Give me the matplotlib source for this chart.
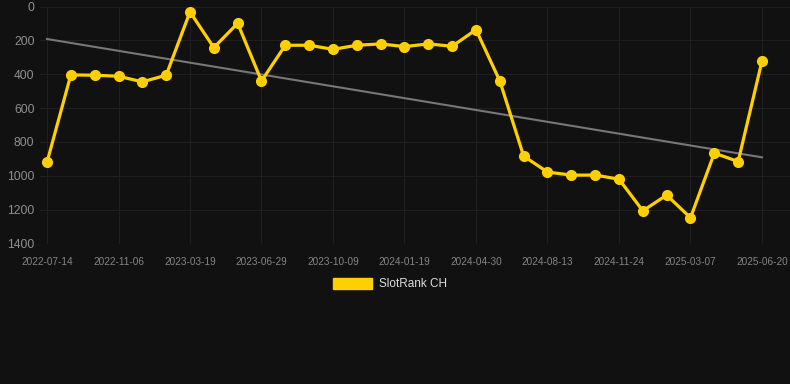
import numpy as np
import matplotlib.pyplot as plt

# rank values, one per sample point (lower rank = better, axis inverted)
ranks = [920, 404, 406, 412, 445, 406, 32, 243, 99, 440,
         229, 229, 253, 229, 221, 237, 221, 235, 137, 440,
         884, 978, 996, 996, 1020, 1207, 1114, 1248, 866, 916, 322]
tick_labels = ['2022-07-14', '2022-11-06', '2023-03-19', '2023-06-29',
               '2023-10-09', '2024-01-19', '2024-04-30', '2024-08-13',
               '2024-11-24', '2025-03-07', '2025-06-20']
y_ticks = [0, 200, 400, 600, 800, 1000, 1200, 1400]
series_name = 'SlotRank CH'

bg = '#111111'
gold = '#FFD000'

plt.rcParams['font.family'] = ['Liberation Sans', 'DejaVu Sans']

fig = plt.figure(figsize=(7.9, 3.84), dpi=100, facecolor=bg)
ax = fig.add_axes([40 / 790, 1 - 243.5 / 384, 750 / 790, 237 / 384])
ax.set_facecolor(bg)

x = np.arange(len(ranks))
# linear trend
coef = np.polyfit(x, ranks, 1)
ax.plot(x, np.polyval(coef, x), color='#777777', lw=1.5, zorder=2)

ax.plot(x, ranks, color=gold, lw=2.3, marker='o', ms=7,
        zorder=3, label=series_name, clip_on=False)

ax.set_xlim(-7 / 23.83, 30 + 28 / 23.83)
ax.set_ylim(1400, 0)
ax.set_yticks(y_ticks)
ax.set_xticks(x[::3])
ax.set_xticklabels(tick_labels)

ax.grid(True, color='#1f1f1f', lw=0.8)
ax.set_axisbelow(True)
for s in ax.spines.values():
    s.set_visible(False)
ax.tick_params(axis='y', length=0, pad=4, labelsize=8.7, labelcolor='#8f8f8f')
ax.tick_params(axis='x', length=0, pad=10, labelsize=7.2, labelcolor='#858585')

leg = fig.legend(handles=[plt.Rectangle((0, 0), 1, 1, color=gold)],
                 labels=[series_name], loc='center', bbox_to_anchor=(390 / 790, 1 - 284 / 384),
                 frameon=False, fontsize=8.5, handlelength=3.3, handleheight=1.1,
                 handletextpad=0.6)
for t in leg.get_texts():
    t.set_color('#dddddd')

fig.savefig('out.png', dpi=100, facecolor=bg)
